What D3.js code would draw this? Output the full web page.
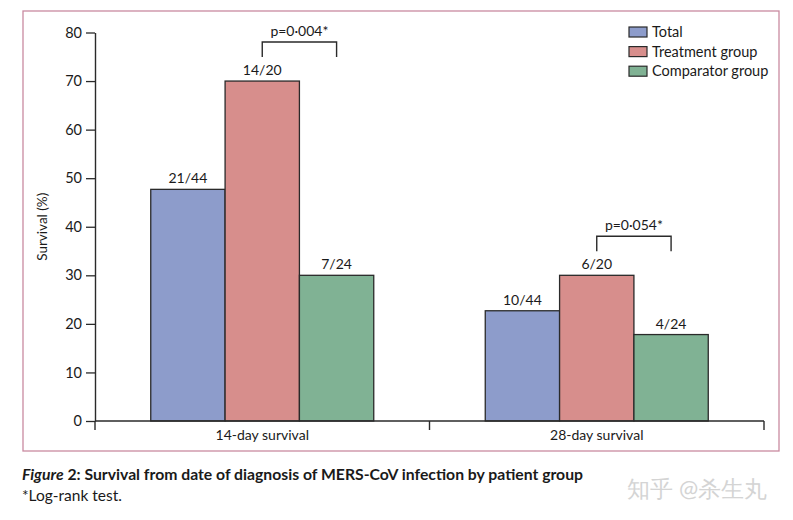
<!DOCTYPE html>
<html><head><meta charset="utf-8">
<script src="https://cdn.jsdelivr.net/npm/d3@7"></script>
<style>body{margin:0;background:#fff}svg{display:block}text{font-family:Lato,"Open Sans",sans-serif;fill:#1a1a1a}</style>
</head><body>
<svg id="c" width="793" height="520"></svg>
<script>
const categories = ["14-day survival", "28-day survival"];
const seriesNames = ["Total", "Treatment group", "Comparator group"];
const totalValues = [47.7, 22.7];
const treatmentValues = [70, 30];
const comparatorValues = [30, 17.8];
const barLabels = [["21/44", "14/20", "7/24"], ["10/44", "6/20", "4/24"]];
const pLabels = ["p=0·004*", "p=0·054*"];
const yTicks = [0, 10, 20, 30, 40, 50, 60, 70, 80];
const colors = ["#8d9ccb", "#d78e8c", "#80b294"];

const svg = d3.select("#c");
const x0 = 95, x1 = 764, yTop = 32.5, yBot = 421;
const y = d3.scaleLinear().domain([0, 80]).range([yBot, yTop]);
const xg = d3.scaleBand().domain(categories).range([x0, x1]).padding(0);
const xs = d3.scaleBand().domain(seriesNames).range([0, xg.bandwidth()]).paddingInner(0).paddingOuter(0.75);
const series = [totalValues, treatmentValues, comparatorValues];

// frame
svg.append("rect").attr("x", 23).attr("y", 11).attr("width", 756).attr("height", 440)
  .attr("fill", "none").attr("stroke", "#c98aa0").attr("stroke-width", 1.3);

// bars
categories.forEach((c, ci) => {
  seriesNames.forEach((s, si) => {
    const v = series[si][ci];
    const bx = xg(c) + xs(s);
    svg.append("rect").attr("x", bx).attr("y", y(v)).attr("width", xs.bandwidth()).attr("height", y(0) - y(v))
      .attr("fill", colors[si]).attr("stroke", "#2a2a2a").attr("stroke-width", 1.3);
    svg.append("text").attr("x", bx + xs.bandwidth() / 2).attr("y", y(v) - 6)
      .attr("text-anchor", "middle").attr("font-size", 14).text(barLabels[ci][si]);
  });
  // bracket between treatment and comparator
  const a = xg(c) + xs("Treatment group") + xs.bandwidth() / 2;
  const b = xg(c) + xs("Comparator group") + xs.bandwidth() / 2;
  const topY = y(treatmentValues[ci]) - 39;
  const botY = topY + 15;
  svg.append("path").attr("d", `M${a},${botY}V${topY}H${b}V${botY}`)
    .attr("fill", "none").attr("stroke", "#2a2a2a").attr("stroke-width", 1.4);
  svg.append("text").attr("x", (a + b) / 2).attr("y", topY - 6).attr("text-anchor", "middle")
    .attr("font-size", 14).text(pLabels[ci]);
});

// y axis
const yAxis = d3.axisLeft(y).tickValues(yTicks).tickSize(9).tickPadding(4).tickSizeOuter(0);
const ga = svg.append("g").attr("transform", `translate(${x0},0)`).call(yAxis);
ga.select(".domain").attr("stroke", "#2a2a2a").attr("stroke-width", 1.4);
ga.selectAll(".tick line").attr("stroke", "#2a2a2a").attr("stroke-width", 1.3);
ga.selectAll(".tick text").attr("font-size", 14.5).attr("font-family", "Lato").attr("fill", "#1a1a1a");

// x axis
svg.append("line").attr("x1", x0).attr("x2", x1).attr("y1", yBot).attr("y2", yBot).attr("stroke", "#2a2a2a").attr("stroke-width", 1.4);
const bounds = [x0, xg(categories[1]), x1];
bounds.forEach(bx => svg.append("line").attr("x1", bx).attr("x2", bx).attr("y1", yBot).attr("y2", yBot + 9)
  .attr("stroke", "#2a2a2a").attr("stroke-width", 1.4));
categories.forEach(c => svg.append("text").attr("x", xg(c) + xg.bandwidth() / 2).attr("y", 440)
  .attr("text-anchor", "middle").attr("font-size", 14).text(c));

// y label
svg.append("text").attr("transform", `translate(47,${(yTop + yBot) / 2}) rotate(-90)`)
  .attr("text-anchor", "middle").attr("font-size", 13.5).text("Survival (%)");

// legend
seriesNames.forEach((s, i) => {
  const ly = 27 + i * 19.6;
  svg.append("rect").attr("x", 629).attr("y", ly).attr("width", 18).attr("height", 10)
    .attr("fill", colors[i]).attr("stroke", "#2a2a2a").attr("stroke-width", 1.2);
  svg.append("text").attr("x", 652).attr("y", ly + 10).attr("font-size", 14.5).text(s);
});

// caption
const cap = svg.append("text").attr("x", 22).attr("y", 480).attr("font-size", 16).attr("font-weight", "bold")
  .attr("textLength", 561).attr("lengthAdjust", "spacingAndGlyphs");
cap.append("tspan").attr("font-style", "italic").text("Figure");
cap.append("tspan").text(" 2: Survival from date of diagnosis of MERS-CoV infection by patient group");
svg.append("text").attr("x", 22).attr("y", 501).attr("font-size", 15)
  .attr("textLength", 100).attr("lengthAdjust", "spacingAndGlyphs").text("*Log-rank test.");
svg.append("text").attr("x", 627).attr("y", 497).attr("font-size", 23).attr("font-family", "Noto Sans CJK SC")
  .style("fill", "#d4d4d4").text("知乎 @杀生丸");
</script>
</body></html>
